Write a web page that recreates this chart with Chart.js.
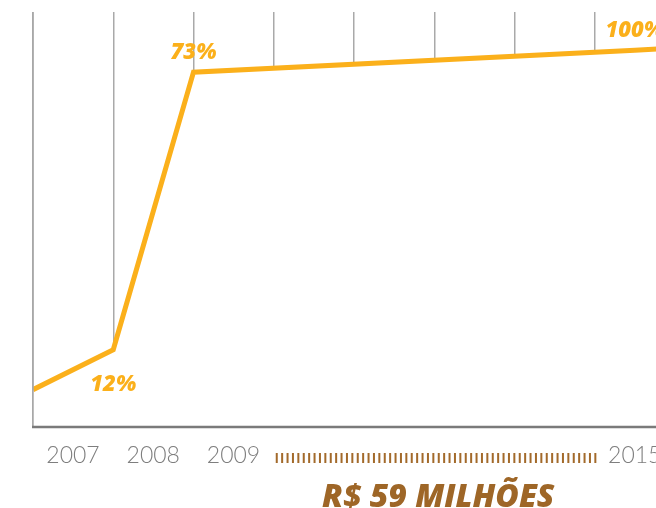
<!doctype html>
<html lang="pt">
  <head>
    <meta charset="utf-8">
    <title>R$ 59 milhões</title>
    <style>
      html, body { margin: 0; padding: 0; background: #fff; overflow: hidden; }
      .wrap { width: 700px; height: 508px; }
    </style>
  </head>
  <body>
<div class="wrap">
  <canvas id="chart" width="700" height="508"></canvas>
</div>

<script src="https://cdn.jsdelivr.net/npm/chart.js"></script>
<script>
  // years on the x axis (the empty ones sit under the hatched stretch)
  const xLabels = ['2007', '2008', '2009', '', '', '', '', '2015'];
  // points of the line: position on the time axis and height (0-100)
  const xPos = [0, 1, 2, 7.5, 8];
  const heights = [9, 18.6, 85.5, 90.8, 91.3];
  const pctLabels = ['', '12%', '73%', '100%', ''];
  const totalLabel = 'R$ 59 MILHÕES';

  const orange = '#FBB01B';
  const brown = '#9E6627';

  const decorations = {
    id: 'decorations',
    afterDatasetsDraw(chart) {
      const ctx = chart.ctx;
      const area = chart.chartArea;
      const x = chart.scales.x;
      ctx.save();

      // left axis line
      ctx.strokeStyle = '#a9a9a9';
      ctx.lineWidth = 1.5;
      ctx.beginPath();
      ctx.moveTo(area.left, area.top);
      ctx.lineTo(area.left, area.bottom);
      ctx.stroke();

      // bottom axis
      ctx.strokeStyle = '#7a7a7a';
      ctx.lineWidth = 2.5;
      ctx.beginPath();
      ctx.moveTo(area.left - 1, area.bottom);
      ctx.lineTo(area.right, area.bottom);
      ctx.stroke();

      // percentage labels
      const meta = chart.getDatasetMeta(0);
      ctx.fillStyle = orange;
      ctx.font = 'italic 800 22px "Open Sans"';
      ctx.textAlign = 'center';
      ctx.textBaseline = 'middle';
      pctLabels.forEach((txt, i) => {
        if (!txt) return;
        const p = meta.data[i];
        const dy = heights[i] < 50 ? 35 : -19;
        ctx.fillText(txt, p.x, p.y + dy);
      });

      // hatched stretch for the skipped years
      ctx.strokeStyle = '#A36A2B';
      ctx.lineWidth = 10;
      ctx.setLineDash([2, 3.4]);
      ctx.beginPath();
      ctx.moveTo(x.getPixelForValue(3) + 2, area.bottom + 31);
      ctx.lineTo(x.getPixelForValue(7) + 5, area.bottom + 31);
      ctx.stroke();
      ctx.setLineDash([]);

      // total under the chart
      ctx.fillStyle = brown;
      ctx.font = 'italic 800 32px "Open Sans"';
      ctx.textBaseline = 'alphabetic';
      ctx.fillText(totalLabel, x.getPixelForValue(5) + 4, area.bottom + 80);

      ctx.restore();
    }
  };

  const data = {
    datasets: [{
      data: xPos.map((v, i) => ({ x: v, y: heights[i] })),
      borderColor: orange,
      borderWidth: 5,
      backgroundColor: '#ffffff',
      fill: 'origin',
      pointRadius: 0,
      tension: 0,
      borderJoinStyle: 'miter'
    }]
  };

  new Chart(document.getElementById('chart'), {
    type: 'line',
    data,
    options: {
      responsive: false,
      animation: false,
      devicePixelRatio: 1,
      layout: { padding: { top: 12, left: 33, right: 25, bottom: 0 } },
      plugins: { legend: { display: false }, tooltip: { enabled: false } },
      scales: {
        x: {
          type: 'linear',
          min: 0,
          max: 8,
          afterFit: (s) => { s.height = 81; s.paddingLeft = 0; s.paddingRight = 0; },
          border: { display: false },
          grid: { color: '#a9a9a9', lineWidth: 1.5, drawTicks: false },
          ticks: {
            stepSize: 1,
            autoSkip: false,
            maxRotation: 0,
            labelOffset: 40,
            padding: 15,
            color: '#7e7e7e',
            font: { family: 'Lato', size: 23, weight: 300 },
            callback: (v) => xLabels[v] || ''
          }
        },
        y: { display: false, min: 0, max: 100 }
      }
    },
    plugins: [decorations]
  });
</script>
  </body>
</html>
